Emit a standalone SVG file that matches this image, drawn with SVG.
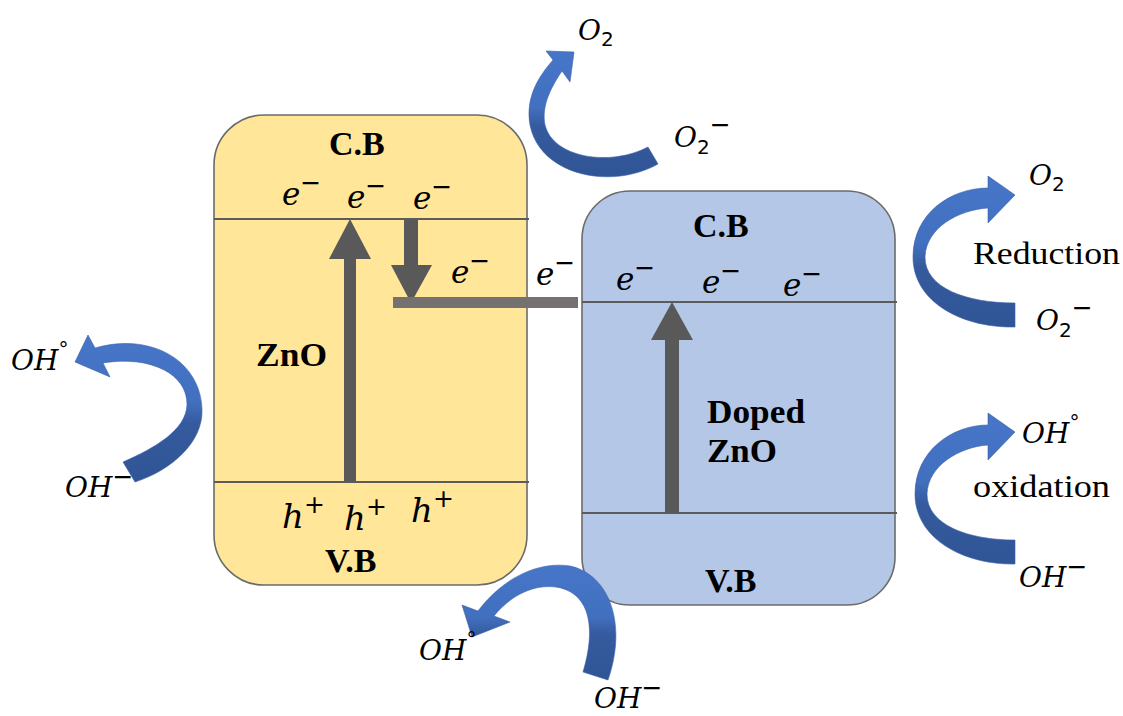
<svg xmlns="http://www.w3.org/2000/svg" width="1123" height="716" viewBox="0 0 1123 716">
<defs>
<style>
.box{stroke:#6b6b6b;stroke-width:1.6}
.lvl{stroke:#5b5b5b;stroke-width:2}
.bar{fill:#595959}
.lbl{font-family:"Liberation Serif",serif;font-weight:bold;font-size:34px;fill:#000}
.m{font-family:"DejaVu Serif",serif;font-style:italic;font-size:31px;fill:#000}
.mh{font-family:"DejaVu Serif",serif;font-style:italic;font-size:34px;fill:#000}
.mo{font-family:"DejaVu Serif",serif;font-style:italic;font-size:28px;fill:#000}
.sup{font-family:"DejaVu Sans",sans-serif;font-style:normal;font-size:25px}
.sub{font-family:"DejaVu Sans",sans-serif;font-style:normal;font-size:20px}
.deg{font-family:"DejaVu Sans",sans-serif;font-style:normal;font-size:20px}
.word{font-family:"Liberation Serif",serif;font-size:31px;fill:#000}
.curve{fill:url(#blue);stroke:#3a60a8;stroke-width:0.6}
</style>
<linearGradient id="blue" x1="0" y1="0" x2="0" y2="1">
<stop offset="0" stop-color="#4775c8"/>
<stop offset="0.45" stop-color="#4270c0"/>
<stop offset="0.6" stop-color="#355b9e"/>
<stop offset="1" stop-color="#2f5596"/>
</linearGradient>
</defs>
<rect width="1123" height="716" fill="#fff"/>

<g id="zno">
<rect class="box" x="214" y="115" width="313" height="470" rx="50" fill="#ffe699"/>
<line class="lvl" x1="214" y1="219" x2="529" y2="219"/>
<line class="lvl" x1="214" y1="482" x2="529" y2="482"/>
<text class="lbl" x="329" y="155">C.B</text>
<text class="lbl" x="325" y="572">V.B</text>
<text class="lbl" x="256" y="366" font-size="31" textLength="71" lengthAdjust="spacingAndGlyphs">ZnO</text>
<text class="m" x="282" y="205">e<tspan class="sup" dy="-14">−</tspan></text>
<text class="m" x="347" y="208">e<tspan class="sup" dy="-14">−</tspan></text>
<text class="m" x="413" y="209">e<tspan class="sup" dy="-14">−</tspan></text>
<text class="mh" x="282" y="528">h<tspan class="sup" dy="-15">+</tspan></text>
<text class="mh" x="344" y="530">h<tspan class="sup" dy="-15">+</tspan></text>
<text class="mh" x="411" y="522">h<tspan class="sup" dy="-15">+</tspan></text>
</g>

<g id="doped-zno">
<rect class="box" x="582" y="191" width="313" height="414" rx="48" fill="#b4c7e7"/>
<line class="lvl" x1="582" y1="302" x2="897" y2="302"/>
<line class="lvl" x1="582" y1="513" x2="897" y2="513"/>
<text class="lbl" x="693" y="237">C.B</text>
<text class="lbl" x="705" y="592">V.B</text>
<text class="lbl" x="707" y="423" font-size="30" textLength="98" lengthAdjust="spacingAndGlyphs">Doped</text>
<text class="lbl" x="707" y="462" font-size="30" textLength="70" lengthAdjust="spacingAndGlyphs">ZnO</text>
<text class="m" x="616" y="290">e<tspan class="sup" dy="-14">−</tspan></text>
<text class="m" x="702" y="293">e<tspan class="sup" dy="-14">−</tspan></text>
<text class="m" x="783" y="296">e<tspan class="sup" dy="-14">−</tspan></text>
</g>

<g id="transfer-labels">
<text class="m" x="451" y="283">e<tspan class="sup" dy="-14">−</tspan></text>
<text class="m" x="536" y="285">e<tspan class="sup" dy="-14">−</tspan></text>
</g>

<g id="connectors">
<rect class="bar" x="344" y="255" width="12" height="227"/>
<polygon class="bar" points="350,219 329,259 371,259"/>
<rect class="bar" x="404" y="220" width="14" height="46"/>
<polygon class="bar" points="391,265 432,265 411,303"/>
<rect x="393" y="297" width="185" height="11" fill="#767171"/>
<rect class="bar" x="665" y="337" width="14" height="176"/>
<polygon class="bar" points="672,302 651,340 693,340"/>

<path class="curve" d="M658,164 C612,190 540,176 530,125 C525,96 540,75 553,60 L546,51 L574,52 L570,82 L562,71 C552,86 541,105 545,125 C553,158 610,167 648,147 Z"/>
<path class="curve" d="M1015,327 C962,328 913,302 913,257 C913,214 950,188 988,188 L988,176 L1015,195 L988,223 L988,208 C958,210 926,228 925,257 C925,288 966,303 1015,303 Z"/>
<path class="curve" transform="translate(2,237)" d="M1013,327 C962,328 913,302 913,257 C913,214 950,188 986,188 L986,176 L1013,195 L986,223 L986,208 C958,210 926,228 925,257 C925,288 966,303 1013,303 Z"/>
<path class="curve" d="M95,348 C150,332 201,360 202,410 C203,442 172,470 135,482 L123,462 C155,448 186,430 187,405 C188,374 150,355 103,363 L110,377 L75,362 L88,335 Z"/>
<path class="curve" d="M478,611 C503,578 538,561 570,566 C608,574 628,622 608,680 L583,672 C596,628 590,596 561,588 C535,582 510,596 494,616 L510,622 L472,637 L462,605 Z"/>
</g>

<g id="species">
<text class="mo" x="578" y="40">O<tspan class="sub" dy="6">2</tspan></text>
<text class="mo" x="674" y="147">O<tspan class="sub" dy="7">2</tspan><tspan class="sup" dy="-21">−</tspan></text>
<text class="mo" x="1029" y="185">O<tspan class="sub" dy="6">2</tspan></text>
<text class="word" x="973" y="264" textLength="147" lengthAdjust="spacingAndGlyphs">Reduction</text>
<text class="mo" x="1036" y="330">O<tspan class="sub" dy="7">2</tspan><tspan class="sup" dy="-21">−</tspan></text>
<text class="mo" x="1022" y="443">OH<tspan class="deg" dy="-14">°</tspan></text>
<text class="word" x="973" y="497" textLength="137" lengthAdjust="spacingAndGlyphs">oxidation</text>
<text class="mo" x="1019" y="587">OH<tspan class="sup" dy="-12">−</tspan></text>
<text class="mo" x="11" y="370">OH<tspan class="deg" dy="-14">°</tspan></text>
<text class="mo" x="65" y="497">OH<tspan class="sup" dy="-12">−</tspan></text>
<text class="mo" x="419" y="660">OH<tspan class="deg" dy="-14">°</tspan></text>
<text class="mo" x="594" y="708">OH<tspan class="sup" dy="-12">−</tspan></text>
</g>
</svg>
